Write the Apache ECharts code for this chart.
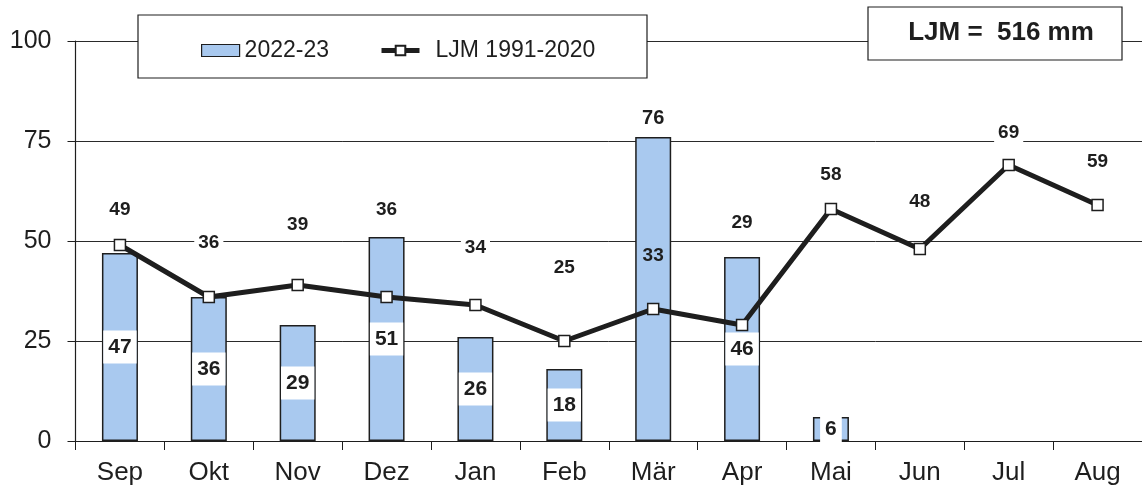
<!DOCTYPE html>
<html>
<head>
<meta charset="utf-8">
<script src="https://cdn.jsdelivr.net/npm/echarts@6/dist/echarts.min.js"></script>
<style>
html,body{margin:0;padding:0;background:#fff;}
#chart{width:1142px;height:490px;}
</style>
</head>
<body>
<div id="chart"></div>
<script>
// ---- data ----
var months = ['Sep','Okt','Nov','Dez','Jan','Feb','Mär','Apr','Mai','Jun','Jul','Aug'];
var season = [47, 36, 29, 51, 26, 18, 76, 46, 6, null, null, null];
var ljm = [49, 36, 39, 36, 34, 25, 33, 29, 58, 48, 69, 59];
var yTicks = [0, 25, 50, 75, 100];
var seriesNames = ['2022-23', 'LJM 1991-2020'];
var annualText = 'LJM =  516 mm';

// ---- styling (label placement, not data) ----
var lineLabelLift = [35, 54, 60, 87, 57, 73, 53, 102, 34, 47, 32, 43];

var FONT = "'Liberation Sans', Arial, sans-serif";
var INK = '#1e1e1e';
var BAR = '#a9c9ef';

var barData = season.map(function (v, i) {
  if (v === null) return null;
  var item = { value: v };
  if (months[i] === 'Mär') {
    item.label = { position: 'top', distance: 8, backgroundColor: 'transparent', padding: 0, fontSize: 20 };
  }
  return item;
});

var lineData = ljm.map(function (v, i) {
  return {
    value: v,
    label: {
      offset: [0, -lineLabelLift[i]],
      backgroundColor: months[i] === 'Mär' ? 'transparent' : '#fff'
    }
  };
});

var chart = echarts.init(document.getElementById('chart'), null, { renderer: 'canvas' });
chart.setOption({
  animation: false,
  backgroundColor: '#fff',
  textStyle: { fontFamily: FONT },
  grid: { left: 75.5, right: -10, top: 41, bottom: 49, containLabel: false },
  legend: {
    left: 196, top: 34,
    itemWidth: 38, itemHeight: 12, itemGap: 50,
    textStyle: { fontSize: 23, color: INK, fontFamily: FONT },
    data: [
      { name: seriesNames[0], icon: 'rect', itemStyle: { color: BAR, borderColor: INK, borderWidth: 1.2 } },
      { name: seriesNames[1], lineStyle: { width: 5, color: INK },
        textStyle: { padding: [0, 0, 0, 11] } }
    ],
    z: 10
  },
  graphic: [
    { type: 'rect', z: 5, shape: { x: 138, y: 15, width: 509, height: 63 },
      style: { fill: '#fff', stroke: INK, lineWidth: 1.2 } },
    { type: 'rect', z: 5, shape: { x: 868, y: 7, width: 254, height: 53 },
      style: { fill: '#fff', stroke: INK, lineWidth: 1.2 } },
    { type: 'text', z: 6, x: 1001, y: 33,
      style: { text: annualText, font: 'bold 26px ' + FONT, fill: INK, align: 'center', verticalAlign: 'middle' } }
  ],
  xAxis: {
    type: 'category',
    data: months,
    boundaryGap: true,
    axisLine: { lineStyle: { color: INK, width: 1.2 } },
    axisTick: { show: true, length: 9, lineStyle: { color: INK, width: 1 } },
    axisLabel: { fontSize: 26, color: INK, margin: 19, fontFamily: FONT },
    splitLine: { show: false }
  },
  yAxis: {
    type: 'value',
    min: yTicks[0], max: yTicks[yTicks.length - 1], interval: 25,
    axisLine: { show: true, lineStyle: { color: INK, width: 1.2 } },
    axisTick: { show: true, length: 8, lineStyle: { color: INK, width: 1 } },
    axisLabel: { fontSize: 25, color: INK, margin: 24, fontFamily: FONT },
    splitLine: { show: true, lineStyle: { color: '#2a2a2a', width: 1 } }
  },
  series: [
    {
      name: seriesNames[0],
      type: 'bar',
      data: barData,
      barWidth: 36,
      itemStyle: { color: BAR, borderColor: INK, borderWidth: 1.5 },
      label: {
        show: true, position: 'inside',
        color: INK, fontWeight: 'bold', fontSize: 21, fontFamily: FONT,
        backgroundColor: '#fff', padding: [6, 5], lineHeight: 21
      },
      z: 2
    },
    {
      name: seriesNames[1],
      type: 'line',
      data: lineData,
      symbol: 'rect', symbolSize: 11,
      showAllSymbol: true,
      lineStyle: { color: INK, width: 5 },
      itemStyle: { color: '#fff', borderColor: INK, borderWidth: 1.5 },
      label: {
        show: true, position: 'inside',
        color: INK, fontWeight: 'bold', fontSize: 19, fontFamily: FONT,
        padding: [1, 4], lineHeight: 21
      },
      z: 4
    }
  ]
});
</script>
</body>
</html>
